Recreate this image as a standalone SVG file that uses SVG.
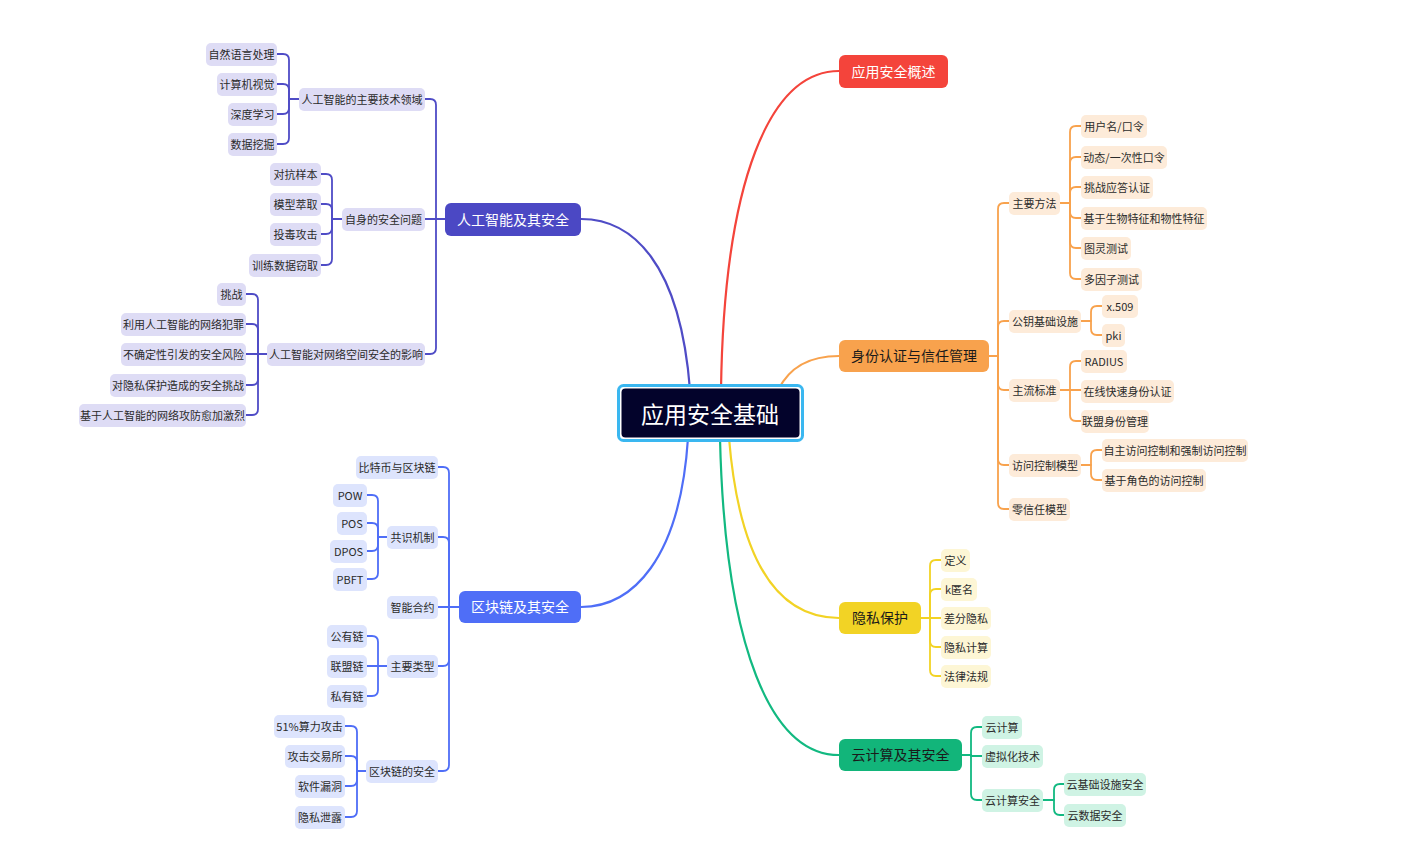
<svg xmlns="http://www.w3.org/2000/svg" width="1412" height="865" viewBox="0 0 1412 865">
<style>
text{font-family:"Noto Sans CJK SC","Noto Sans",sans-serif;dominant-baseline:central;text-anchor:middle;transform:translateY(-1px)}
.l{font-size:11px;fill:#2b2b2b}
.m{font-size:14px}
.w{fill:#ffffff}
.d{fill:#1a1a1a}
.c{fill:none;stroke-width:1.8;stroke-linecap:round;stroke-linejoin:round}
.mc{fill:none;stroke-width:2.2;stroke-linecap:round}
.pu{stroke:#4f4cc6}.bl{stroke:#4f6ef7}.or{stroke:#f8a24d}.ye{stroke:#f2d325}.gr{stroke:#12b981}.re{stroke:#f4443b}
.fpu{fill:#dedcf5}.fbl{fill:#dde4fd}.for{fill:#fdebd9}.fye{fill:#fdf6d5}.fgr{fill:#cff3e4}
</style>
<rect width="1412" height="865" fill="#ffffff"/>
<g id="connectors">
<path class="mc re" d="M721,390 C724,180 770,71 839,71"/>
<path class="mc or" d="M778,390 C790,366 810,356 839,356"/>
<path class="mc pu" d="M690,390 C680,262 632,219 581,219"/>
<path class="mc bl" d="M688,438 C680,560 632,607 581,607"/>
<path class="mc ye" d="M729,438 C740,570 782,618 839,618"/>
<path class="mc gr" d="M720,438 C725,650 772,755 839,755"/>
<path class="c pu" d="M445,219 H436 V105 Q436,99 430,99 H425"/>
<path class="c pu" d="M445,219 H425"/>
<path class="c pu" d="M445,219 H436 V348 Q436,354 430,354 H425"/>
<path class="c pu" d="M299,99 H289 V60 Q289,54 283,54 H277"/>
<path class="c pu" d="M299,99 H289 V90 Q289,84 283,84 H277"/>
<path class="c pu" d="M299,99 H289 V108 Q289,114 283,114 H277"/>
<path class="c pu" d="M299,99 H289 V138 Q289,144 283,144 H277"/>
<path class="c pu" d="M342,219 H332 V180 Q332,174 326,174 H321"/>
<path class="c pu" d="M342,219 H332 V210 Q332,204 326,204 H321"/>
<path class="c pu" d="M342,219 H332 V228 Q332,234 326,234 H321"/>
<path class="c pu" d="M342,219 H332 V259 Q332,265 326,265 H321"/>
<path class="c pu" d="M267,354 H258 V300 Q258,294 252,294 H246"/>
<path class="c pu" d="M267,354 H258 V330 Q258,324 252,324 H246"/>
<path class="c pu" d="M267,354 H246"/>
<path class="c pu" d="M267,354 H258 V379 Q258,385 252,385 H246"/>
<path class="c pu" d="M267,354 H258 V409 Q258,415 252,415 H246"/>
<path class="c bl" d="M459,607 H449 V473 Q449,467 443,467 H438"/>
<path class="c bl" d="M459,607 H449 V543 Q449,537 443,537 H438"/>
<path class="c bl" d="M459,607 H438"/>
<path class="c bl" d="M459,607 H449 V660 Q449,666 443,666 H438"/>
<path class="c bl" d="M459,607 H449 V765 Q449,771 443,771 H438"/>
<path class="c bl" d="M387,537 H378 V501 Q378,495 372,495 H367"/>
<path class="c bl" d="M387,537 H378 V529 Q378,523 372,523 H367"/>
<path class="c bl" d="M387,537 H378 V545 Q378,551 372,551 H367"/>
<path class="c bl" d="M387,537 H378 V573 Q378,579 372,579 H367"/>
<path class="c bl" d="M387,666 H378 V642 Q378,636 372,636 H367"/>
<path class="c bl" d="M387,666 H367"/>
<path class="c bl" d="M387,666 H378 V690 Q378,696 372,696 H367"/>
<path class="c bl" d="M366,771 H357 V732 Q357,726 351,726 H345"/>
<path class="c bl" d="M366,771 H357 V762 Q357,756 351,756 H345"/>
<path class="c bl" d="M366,771 H357 V780 Q357,786 351,786 H345"/>
<path class="c bl" d="M366,771 H357 V811 Q357,817 351,817 H345"/>
<path class="c or" d="M989,356 H998 V209 Q998,203 1004,203 H1009"/>
<path class="c or" d="M989,356 H998 V327 Q998,321 1004,321 H1009"/>
<path class="c or" d="M989,356 H998 V384 Q998,390 1004,390 H1009"/>
<path class="c or" d="M989,356 H998 V459 Q998,465 1004,465 H1009"/>
<path class="c or" d="M989,356 H998 V503 Q998,509 1004,509 H1009"/>
<path class="c or" d="M1060,203 H1070 V132 Q1070,126 1076,126 H1081"/>
<path class="c or" d="M1060,203 H1070 V163 Q1070,157 1076,157 H1081"/>
<path class="c or" d="M1060,203 H1070 V193 Q1070,187 1076,187 H1081"/>
<path class="c or" d="M1060,203 H1070 V212 Q1070,218 1076,218 H1081"/>
<path class="c or" d="M1060,203 H1070 V242 Q1070,248 1076,248 H1081"/>
<path class="c or" d="M1060,203 H1070 V273 Q1070,279 1076,279 H1081"/>
<path class="c or" d="M1081,321 H1091 V312 Q1091,306 1097,306 H1102"/>
<path class="c or" d="M1081,321 H1091 V329 Q1091,335 1097,335 H1102"/>
<path class="c or" d="M1060,390 H1070 V367 Q1070,361 1076,361 H1081"/>
<path class="c or" d="M1060,390 H1081"/>
<path class="c or" d="M1060,390 H1070 V415 Q1070,421 1076,421 H1081"/>
<path class="c or" d="M1081,465 H1091 V456 Q1091,450 1097,450 H1102"/>
<path class="c or" d="M1081,465 H1091 V474 Q1091,480 1097,480 H1102"/>
<path class="c ye" d="M921,618 H930 V566 Q930,560 936,560 H941"/>
<path class="c ye" d="M921,618 H930 V595 Q930,589 936,589 H941"/>
<path class="c ye" d="M921,618 H941"/>
<path class="c ye" d="M921,618 H930 V641 Q930,647 936,647 H941"/>
<path class="c ye" d="M921,618 H930 V670 Q930,676 936,676 H941"/>
<path class="c gr" d="M962,755 H971 V733 Q971,727 977,727 H982"/>
<path class="c gr" d="M962,755 H971 V756 H982"/>
<path class="c gr" d="M962,755 H971 V794 Q971,800 977,800 H982"/>
<path class="c gr" d="M1043,800 H1054 V790 Q1054,784 1060,784 H1064"/>
<path class="c gr" d="M1043,800 H1054 V809 Q1054,815 1060,815 H1064"/>
</g>
<g id="center"><rect x="618.5" y="385.5" width="184" height="55" rx="5" fill="#ffffff" stroke="#3ab7f0" stroke-width="3"/><rect x="621.5" y="388.5" width="178" height="49" rx="4" fill="#03032b"/><text x="710" y="414" class="w" style="font-size:23px">应用安全基础</text></g>
<g id="n-overview"><rect x="839" y="55" width="109" height="33" rx="6" fill="#f4443b"/><text x="893.5" y="71.5" class="m w">应用安全概述</text></g>
<g id="n-identity"><rect x="839" y="340" width="150" height="32" rx="6" fill="#f8a24d"/><text x="914" y="356" class="m d">身份认证与信任管理</text></g>
<g id="n-privacy"><rect x="839" y="602" width="82" height="32" rx="6" fill="#f2d325"/><text x="880" y="618" class="m d">隐私保护</text></g>
<g id="n-cloud"><rect x="839" y="739" width="123" height="32" rx="6" fill="#12b57a"/><text x="900.5" y="755" class="m d">云计算及其安全</text></g>
<g id="n-ai"><rect x="445" y="203" width="136" height="33" rx="6" fill="#4b48c4"/><text x="513" y="219.5" class="m w">人工智能及其安全</text></g>
<g id="n-chain"><rect x="459" y="591" width="122" height="32" rx="6" fill="#4f6ef7"/><text x="520" y="607" class="m w">区块链及其安全</text></g>
<g id="ai-1"><rect class="fpu" x="299" y="88" width="126" height="23" rx="5"/><text class="l" x="362" y="99.5">人工智能的主要技术领域</text></g>
<g id="ai-2"><rect class="fpu" x="342" y="208" width="83" height="23" rx="5"/><text class="l" x="383.5" y="219.5">自身的安全问题</text></g>
<g id="ai-3"><rect class="fpu" x="267" y="343" width="158" height="23" rx="5"/><text class="l" x="346" y="354.5">人工智能对网络空间安全的影响</text></g>
<g id="ai-1-1"><rect class="fpu" x="206" y="43" width="71" height="23" rx="5"/><text class="l" x="241.5" y="54.5">自然语言处理</text></g>
<g id="ai-1-2"><rect class="fpu" x="217" y="73" width="60" height="23" rx="5"/><text class="l" x="247" y="84.5">计算机视觉</text></g>
<g id="ai-1-3"><rect class="fpu" x="228" y="103" width="49" height="23" rx="5"/><text class="l" x="252.5" y="114.5">深度学习</text></g>
<g id="ai-1-4"><rect class="fpu" x="228" y="133" width="49" height="23" rx="5"/><text class="l" x="252.5" y="144.5">数据挖掘</text></g>
<g id="ai-2-1"><rect class="fpu" x="270" y="163" width="51" height="23" rx="5"/><text class="l" x="295.5" y="174.5">对抗样本</text></g>
<g id="ai-2-2"><rect class="fpu" x="270" y="193" width="51" height="23" rx="5"/><text class="l" x="295.5" y="204.5">模型萃取</text></g>
<g id="ai-2-3"><rect class="fpu" x="270" y="223" width="51" height="23" rx="5"/><text class="l" x="295.5" y="234.5">投毒攻击</text></g>
<g id="ai-2-4"><rect class="fpu" x="249" y="254" width="72" height="23" rx="5"/><text class="l" x="285" y="265.5">训练数据窃取</text></g>
<g id="ai-3-1"><rect class="fpu" x="217" y="283" width="29" height="23" rx="5"/><text class="l" x="231.5" y="294.5">挑战</text></g>
<g id="ai-3-2"><rect class="fpu" x="121" y="313" width="125" height="23" rx="5"/><text class="l" x="183.5" y="324.5">利用人工智能的网络犯罪</text></g>
<g id="ai-3-3"><rect class="fpu" x="121" y="343" width="125" height="23" rx="5"/><text class="l" x="183.5" y="354.5">不确定性引发的安全风险</text></g>
<g id="ai-3-4"><rect class="fpu" x="110" y="374" width="136" height="23" rx="5"/><text class="l" x="178" y="385.5">对隐私保护造成的安全挑战</text></g>
<g id="ai-3-5"><rect class="fpu" x="79" y="404" width="167" height="23" rx="5"/><text class="l" x="162.5" y="415.5">基于人工智能的网络攻防愈加激烈</text></g>
<g id="bc-1"><rect class="fbl" x="356" y="456" width="82" height="23" rx="5"/><text class="l" x="397" y="467.5">比特币与区块链</text></g>
<g id="bc-2"><rect class="fbl" x="387" y="526" width="51" height="23" rx="5"/><text class="l" x="412.5" y="537.5">共识机制</text></g>
<g id="bc-3"><rect class="fbl" x="387" y="596" width="51" height="23" rx="5"/><text class="l" x="412.5" y="607.5">智能合约</text></g>
<g id="bc-4"><rect class="fbl" x="387" y="655" width="51" height="23" rx="5"/><text class="l" x="412.5" y="666.5">主要类型</text></g>
<g id="bc-5"><rect class="fbl" x="366" y="760" width="72" height="23" rx="5"/><text class="l" x="402" y="771.5">区块链的安全</text></g>
<g id="bc-2-1"><rect class="fbl" x="333" y="484" width="34" height="23" rx="5"/><text class="l" x="350" y="495.5">POW</text></g>
<g id="bc-2-2"><rect class="fbl" x="337" y="512" width="30" height="23" rx="5"/><text class="l" x="352" y="523.5">POS</text></g>
<g id="bc-2-3"><rect class="fbl" x="330" y="540" width="37" height="23" rx="5"/><text class="l" x="348.5" y="551.5">DPOS</text></g>
<g id="bc-2-4"><rect class="fbl" x="333" y="568" width="34" height="23" rx="5"/><text class="l" x="350" y="579.5">PBFT</text></g>
<g id="bc-4-1"><rect class="fbl" x="327" y="625" width="40" height="23" rx="5"/><text class="l" x="347" y="636.5">公有链</text></g>
<g id="bc-4-2"><rect class="fbl" x="327" y="655" width="40" height="23" rx="5"/><text class="l" x="347" y="666.5">联盟链</text></g>
<g id="bc-4-3"><rect class="fbl" x="327" y="685" width="40" height="23" rx="5"/><text class="l" x="347" y="696.5">私有链</text></g>
<g id="bc-5-1"><rect class="fbl" x="274" y="715" width="71" height="23" rx="5"/><text class="l" x="309.5" y="726.5">51%算力攻击</text></g>
<g id="bc-5-2"><rect class="fbl" x="285" y="745" width="60" height="23" rx="5"/><text class="l" x="315" y="756.5">攻击交易所</text></g>
<g id="bc-5-3"><rect class="fbl" x="295" y="775" width="50" height="23" rx="5"/><text class="l" x="320" y="786.5">软件漏洞</text></g>
<g id="bc-5-4"><rect class="fbl" x="295" y="806" width="50" height="23" rx="5"/><text class="l" x="320" y="817.5">隐私泄露</text></g>
<g id="id-1"><rect class="for" x="1009" y="192" width="51" height="23" rx="5"/><text class="l" x="1034.5" y="203.5">主要方法</text></g>
<g id="id-2"><rect class="for" x="1009" y="310" width="72" height="23" rx="5"/><text class="l" x="1045" y="321.5">公钥基础设施</text></g>
<g id="id-3"><rect class="for" x="1009" y="379" width="51" height="23" rx="5"/><text class="l" x="1034.5" y="390.5">主流标准</text></g>
<g id="id-4"><rect class="for" x="1009" y="454" width="72" height="23" rx="5"/><text class="l" x="1045" y="465.5">访问控制模型</text></g>
<g id="id-5"><rect class="for" x="1009" y="498" width="61" height="23" rx="5"/><text class="l" x="1039.5" y="509.5">零信任模型</text></g>
<g id="id-1-1"><rect class="for" x="1081" y="115" width="66" height="23" rx="5"/><text class="l" x="1114" y="126.5">用户名/口令</text></g>
<g id="id-1-2"><rect class="for" x="1081" y="146" width="86" height="23" rx="5"/><text class="l" x="1124" y="157.5">动态/一次性口令</text></g>
<g id="id-1-3"><rect class="for" x="1081" y="176" width="72" height="23" rx="5"/><text class="l" x="1117" y="187.5">挑战应答认证</text></g>
<g id="id-1-4"><rect class="for" x="1081" y="207" width="126" height="23" rx="5"/><text class="l" x="1144" y="218.5">基于生物特征和物性特征</text></g>
<g id="id-1-5"><rect class="for" x="1081" y="237" width="50" height="23" rx="5"/><text class="l" x="1106" y="248.5">图灵测试</text></g>
<g id="id-1-6"><rect class="for" x="1081" y="268" width="61" height="23" rx="5"/><text class="l" x="1111.5" y="279.5">多因子测试</text></g>
<g id="id-2-1"><rect class="for" x="1102" y="295" width="36" height="23" rx="5"/><text class="l" x="1120" y="306.5">x.509</text></g>
<g id="id-2-2"><rect class="for" x="1102" y="324" width="23" height="23" rx="5"/><text class="l" x="1113.5" y="335.5">pki</text></g>
<g id="id-3-1"><rect class="for" x="1081" y="350" width="46" height="23" rx="5"/><text class="l" x="1104" y="361.5">RADIUS</text></g>
<g id="id-3-2"><rect class="for" x="1081" y="380" width="93" height="23" rx="5"/><text class="l" x="1127.5" y="391.5">在线快速身份认证</text></g>
<g id="id-3-3"><rect class="for" x="1081" y="410" width="68" height="23" rx="5"/><text class="l" x="1115" y="421.5">联盟身份管理</text></g>
<g id="id-4-1"><rect class="for" x="1102" y="439" width="146" height="23" rx="5"/><text class="l" x="1175" y="450.5">自主访问控制和强制访问控制</text></g>
<g id="id-4-2"><rect class="for" x="1102" y="469" width="104" height="23" rx="5"/><text class="l" x="1154" y="480.5">基于角色的访问控制</text></g>
<g id="pr-1"><rect class="fye" x="941" y="549" width="29" height="23" rx="5"/><text class="l" x="955.5" y="560.5">定义</text></g>
<g id="pr-2"><rect class="fye" x="941" y="578" width="36" height="23" rx="5"/><text class="l" x="959" y="589.5">k匿名</text></g>
<g id="pr-3"><rect class="fye" x="941" y="607" width="50" height="23" rx="5"/><text class="l" x="966" y="618.5">差分隐私</text></g>
<g id="pr-4"><rect class="fye" x="941" y="636" width="50" height="23" rx="5"/><text class="l" x="966" y="647.5">隐私计算</text></g>
<g id="pr-5"><rect class="fye" x="941" y="665" width="50" height="23" rx="5"/><text class="l" x="966" y="676.5">法律法规</text></g>
<g id="cl-1"><rect class="fgr" x="982" y="716" width="40" height="23" rx="5"/><text class="l" x="1002" y="727.5">云计算</text></g>
<g id="cl-2"><rect class="fgr" x="982" y="745" width="61" height="23" rx="5"/><text class="l" x="1012.5" y="756.5">虚拟化技术</text></g>
<g id="cl-3"><rect class="fgr" x="982" y="789" width="61" height="23" rx="5"/><text class="l" x="1012.5" y="800.5">云计算安全</text></g>
<g id="cl-3-1"><rect class="fgr" x="1064" y="773" width="82" height="23" rx="5"/><text class="l" x="1105" y="784.5">云基础设施安全</text></g>
<g id="cl-3-2"><rect class="fgr" x="1064" y="804" width="62" height="23" rx="5"/><text class="l" x="1095" y="815.5">云数据安全</text></g>
</svg>
